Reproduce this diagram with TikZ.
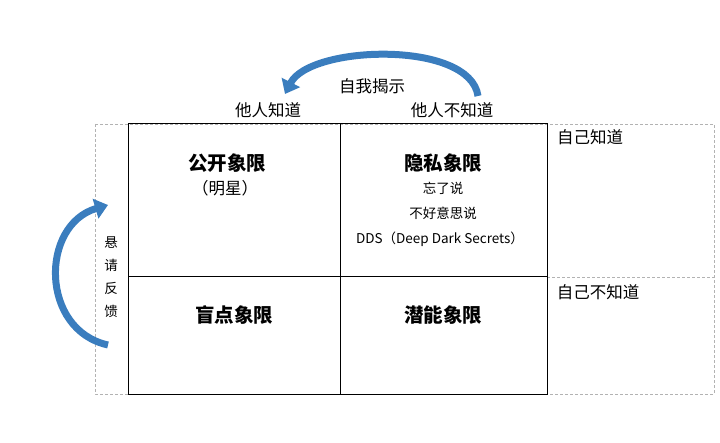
\documentclass[tikz,border=0pt]{standalone}
\usepackage{fontspec}
\setmainfont{Noto Sans CJK SC}
\usetikzlibrary{arrows.meta}
\begin{document}
\begin{tikzpicture}[x=1pt,y=-1pt,
  dashln/.style={gray!60,densely dashed,line width=0.5pt},
  box/.style={black,line width=1pt},
  big/.style={font=\fontsize{19.5}{22}\selectfont\bfseries},
  mid/.style={font=\fontsize{16.5}{19}\selectfont},
  small/.style={font=\fontsize{13.5}{16}\selectfont},
  arr/.style={draw={rgb,255:red,58;green,125;blue,190},line width=7pt,
    -{Triangle[width=20pt,length=13pt]}}]
\useasboundingbox (0,0) rectangle (720,443);
\draw[dashln] (95,124) rectangle (714,394);
\draw[dashln] (547,277) -- (714,277);
\draw[box] (128,124) rectangle (547,394);
\draw[box] (340,124) -- (340,394);
\draw[box] (128,277) -- (547,277);
\node[mid] (t) at (372,86) {自我揭示};
\node[mid] (h1) at (268,110) {他人知道};
\node[mid] (h2) at (452,110) {他人不知道};
\node[mid] (s1) at (590,137) {自己知道};
\node[mid] (s2) at (598,292) {自己不知道};
\node[big] (q1) at (227,163) {公开象限};
\node[mid] (q1b) at (225,188) {（明星）};
\node[big] (q2) at (443,163) {隐私象限};
\node[small] (q2a) at (443,188) {忘了说};
\node[small] (q2b) at (443,213) {不好意思说};
\node[small] (q2c) at (440,239) {DDS（Deep Dark Secrets）};
\node[big] (q3) at (234,315) {盲点象限};
\node[big] (q4) at (443,315) {潜能象限};
\node[small,align=center] (fb) at (111,277) {悬\\[7pt]请\\[7pt]反\\[7pt]馈};
\coordinate (a1) at (478,96);
\coordinate (a2) at (285,94);
\draw[arr] (a1) .. controls (470,40) and (310,45) .. (a2);
\coordinate (b1) at (108,345);
\coordinate (b2) at (108,205);
\draw[arr] (b1) .. controls (40,330) and (40,225) .. (b2);
\end{tikzpicture}
\end{document}
